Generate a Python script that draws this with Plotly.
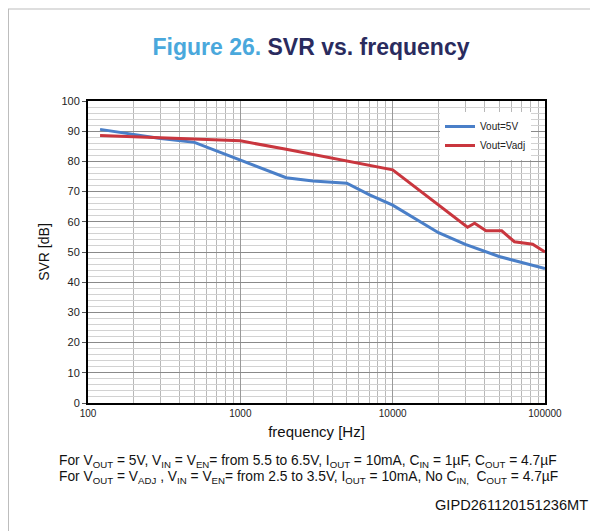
import plotly.graph_objects as go

# SVR vs frequency
freq_5v = [120, 200, 300, 500, 1000, 2000, 3000, 5000, 7000, 10000, 20000, 30000, 50000, 100000]
svr_5v = [90.6, 89.0, 87.6, 86.3, 80.5, 74.6, 73.5, 72.8, 69.0, 65.5, 56.4, 52.5, 48.5, 44.5]

freq_adj = [120, 200, 500, 1000, 2000, 5000, 10000, 31000, 34500, 41000, 52000, 63000, 83000, 100000]
svr_adj = [88.6, 88.2, 87.3, 86.8, 84.0, 80.2, 77.2, 58.2, 59.5, 57.0, 57.0, 53.4, 52.6, 50.0]

x_ticks = [100, 1000, 10000, 100000]
y_ticks = list(range(0, 101, 10))

# the page body has an 8px margin, so the figure starts 8px in from the
# top-left corner; it is made 8px smaller so it still ends at the window edge
OFF = 8
W, H = 598 - OFF, 531 - OFF
L, R, T, B = 88 - OFF, 53, 101 - OFF, 128
PW, PH = W - L - R, H - T - B


def px(x):
    # page x pixel -> paper x
    return (x - OFF - L) / PW


def py(y):
    # page y pixel -> paper y
    return (H - B - (y - OFF)) / PH


fig = go.Figure()
fig.add_trace(go.Scatter(x=freq_5v, y=svr_5v, mode="lines", name="Vout=5V",
                         line=dict(color="#4a7fc8", width=3)))
fig.add_trace(go.Scatter(x=freq_adj, y=svr_adj, mode="lines", name="Vout=Vadj",
                         line=dict(color="#c9363e", width=3)))

font = "Arial, Liberation Sans, sans-serif"

fig.update_layout(
    width=W, height=H,
    margin=dict(l=L, r=R, t=T, b=B),
    paper_bgcolor="white", plot_bgcolor="white",
    font=dict(family=font, size=11, color="#222"),
    title=dict(
        text="<b><span style='color:#4aa8dc'>Figure 26.</span> "
             "<span style='color:#2a2b5e'>SVR vs. frequency</span></b>",
        x=(311 - OFF) / W, y=1 - (47 - OFF) / H, xanchor="center", yanchor="middle",
        font=dict(size=23, family=font),
    ),
    legend=dict(x=px(440), y=py(112), xanchor="left", yanchor="top",
                bgcolor="white", borderwidth=0,
                font=dict(size=10, color="#222"), itemwidth=30,
                tracegroupgap=4),
    showlegend=True,
)

fig.update_xaxes(
    type="log", range=[2, 5],
    tickvals=x_ticks, ticktext=[str(v) for v in x_ticks],
    showgrid=True, gridcolor="#9a9a9a", gridwidth=1,
    minor=dict(dtick="D1", showgrid=True, gridcolor="#b8b8b8", gridwidth=1),
    showline=True, linecolor="black", linewidth=2, mirror=True,
    ticks="", ticklen=0,
    tickfont=dict(size=10, color="#222"),
    title=dict(text="frequency [Hz]", font=dict(size=15, color="#111"), standoff=8),
    zeroline=False,
)
fig.update_yaxes(
    range=[0, 100], tickvals=y_ticks,
    showgrid=True, gridcolor="#8a8a8a", gridwidth=1,
    minor=dict(dtick=2, showgrid=True, gridcolor="#d2d2d2", gridwidth=1),
    showline=True, linecolor="black", linewidth=2, mirror=True,
    ticks="outside", ticklen=4, tickcolor="#555",
    tickfont=dict(size=11, color="#222"),
    title=dict(text="SVR [dB]", font=dict(size=14, color="#111"), standoff=9),
    zeroline=False,
)

# page frame lines
fig.add_shape(type="line", xref="paper", yref="paper",
              x0=px(OFF), x1=px(598), y0=py(9), y1=py(9),
              line=dict(color="#bdbdbd", width=1))
fig.add_shape(type="line", xref="paper", yref="paper",
              x0=px(OFF + 0.5), x1=px(OFF + 0.5), y0=py(9), y1=py(531),
              line=dict(color="#bdbdbd", width=1))

notes = [
    "For V<sub>OUT</sub> = 5V, V<sub>IN</sub> = V<sub>EN</sub>= from 5.5 to 6.5V, "
    "I<sub>OUT</sub> = 10mA, C<sub>IN</sub> = 1µF, C<sub>OUT</sub> = 4.7µF",
    "For V<sub>OUT</sub> = V<sub>ADJ</sub> , V<sub>IN</sub> = V<sub>EN</sub>= from 2.5 to 3.5V, "
    "I<sub>OUT</sub> = 10mA, No C<sub>IN,</sub>  C<sub>OUT</sub> = 4.7µF",
]
for i, txt in enumerate(notes):
    fig.add_annotation(text=txt, xref="paper", yref="paper",
                       x=px(57), y=py(461 + 16 * i),
                       xanchor="left", yanchor="middle", showarrow=False,
                       font=dict(size=13.8, color="#111", family=font))

fig.add_annotation(text="GIPD261120151236MT", xref="paper", yref="paper",
                   x=px(590), y=py(505),
                   xanchor="right", yanchor="middle", showarrow=False,
                   font=dict(size=14.6, color="#111", family=font))

fig.write_html("out.html")
